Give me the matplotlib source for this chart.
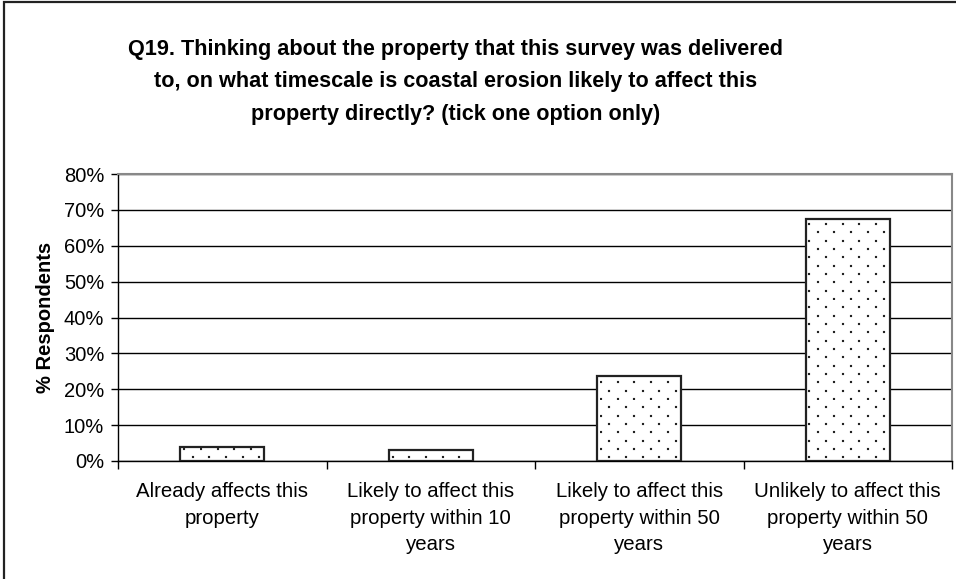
import numpy as np
import matplotlib.pyplot as plt
import matplotlib.patches as mpatches
import matplotlib.hatch as mhatch
from matplotlib.path import Path
from matplotlib.ticker import FixedLocator, NullFormatter, FuncFormatter

plt.rcParams['font.family'] = ['Liberation Sans', 'DejaVu Sans']
plt.rcParams['hatch.linewidth'] = 0.1
plt.rcParams['hatch.color'] = '#505050'

categories = ["Already affects this\nproperty",
              "Likely to affect this\nproperty within 10\nyears",
              "Likely to affect this\nproperty within 50\nyears",
              "Unlikely to affect this\nproperty within 50\nyears"]
values = [3.9, 3.1, 23.7, 67.5]
yticks = [0, 10, 20, 30, 40, 50, 60, 70, 80]

title = ("Q19. Thinking about the property that this survey was delivered\n"
         "to, on what timescale is coastal erosion likely to affect this\n"
         "property directly? (tick one option only)")


# Excel-like sparse staggered dots for '.', snapped to the 100 px hatch tile
class ExcelDots(mhatch.HatchPatternBase):
    def __init__(self, hatch, density):
        n = hatch.count('.')
        self.squares = []
        if n:
            ncols, nrows, tile, dot = 6, 12, 100.0, 2
            for r in range(nrows):
                py = round(r * tile / nrows)
                off = 0.0 if r % 2 == 0 else 0.5
                for i in range(ncols):
                    px = round((i + off) * tile / ncols)
                    x0, y0 = px / tile, py / tile
                    x1, y1 = (px + dot) / tile, (py + dot) / tile
                    self.squares.append([(x0, y0), (x1, y0), (x1, y1),
                                         (x0, y1), (x0, y0)])
        self.num_vertices = 5 * len(self.squares)

    def set_vertices_and_codes(self, vertices, codes):
        sq_codes = [Path.MOVETO, Path.LINETO, Path.LINETO, Path.LINETO,
                    Path.CLOSEPOLY]
        for k, sq in enumerate(self.squares):
            vertices[5 * k:5 * k + 5] = sq
            codes[5 * k:5 * k + 5] = sq_codes


mhatch._hatch_types = [ExcelDots if t is mhatch.SmallFilledCircles else t
                       for t in mhatch._hatch_types]

fig = plt.figure(figsize=(9.56, 5.79), dpi=100)
ax = fig.add_axes([118/956, 1 - 461/579, (952 - 118)/956, (461 - 174)/579])

# outer chart border
fig.patches.append(mpatches.Rectangle((4/956, -0.1), 1.2, 1 - 2/579 + 0.1,
                                      transform=fig.transFigure, fill=False,
                                      edgecolor='#222222', linewidth=1.6))

x = list(range(len(categories)))
ax.bar(x, values, width=0.403, color='white', edgecolor='#222222',
       linewidth=1.6, hatch='.', zorder=3)

ax.set_xlim(-0.5, len(categories) - 0.5)
ax.set_ylim(0, 80)
ax.yaxis.set_major_locator(FixedLocator(yticks))
ax.yaxis.set_major_formatter(FuncFormatter(lambda v, p: f"{int(v)}%"))
ax.grid(axis='y', color='black', linewidth=1.0, zorder=0)

ax.xaxis.set_major_locator(FixedLocator([i - 0.5 for i in range(len(categories) + 1)]))
ax.xaxis.set_major_formatter(NullFormatter())
ax.xaxis.set_minor_locator(FixedLocator(x))
ax.set_xticklabels(categories, minor=True, fontsize=14.7, linespacing=1.52)
ax.tick_params(axis='x', which='minor', length=0, pad=15)
ax.tick_params(axis='x', which='major', length=6, width=1, direction='out')
ax.tick_params(axis='y', length=5, width=1, labelsize=14.5, pad=5)

for s in ['top', 'right']:
    ax.spines[s].set_color('#888888')
    ax.spines[s].set_linewidth(1.5)
for s in ['left', 'bottom']:
    ax.spines[s].set_color('black')
    ax.spines[s].set_linewidth(1.0)

ax.set_ylabel("% Respondents", fontsize=14.5, fontweight='bold')
ax.yaxis.set_label_coords((55 - 118) / 834, 0.5)

fig.text(456/956, 1 - 82/579, title, ha='center', va='center',
         fontsize=15.6, fontweight='bold', linespacing=1.72)

fig.savefig("out.png", dpi=100)
